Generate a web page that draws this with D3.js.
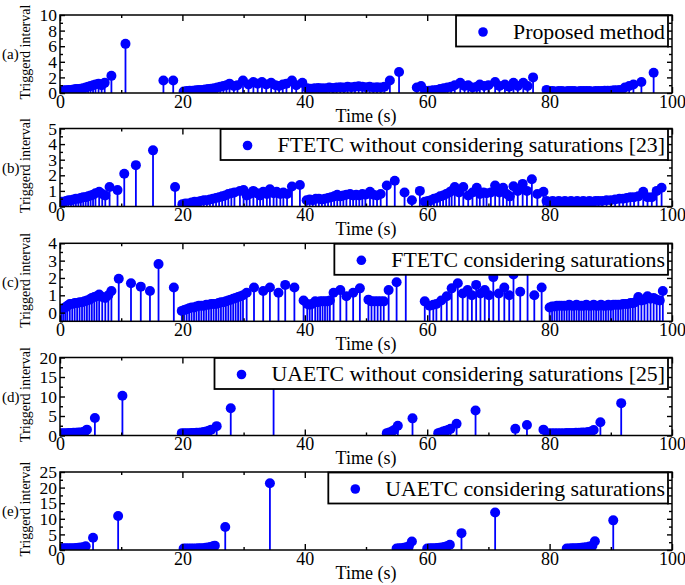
<!DOCTYPE html>
<html>
<head>
<meta charset="utf-8">
<script src="https://cdn.jsdelivr.net/npm/d3@7"></script>
<style>
	body { margin: 0; background: #fff; }
	svg { display: block; }
	text { font-family: "Liberation Serif", "Times New Roman", serif; }
</style>
</head>
<body>
<div id="chart"></div>
<script>
// ---- data (time in s, triggered interval) ----
const xTicks = [0, 20, 40, 60, 80, 100];
const xMinor = [10, 30, 50, 70, 90];

const tA = [0.2,0.6,1.0,1.4,1.8,2.2,2.6,3.0,3.4,3.8,4.2,4.6,5.0,5.4,5.8,6.3,6.8,7.3,8.4,10.7,16.9,18.5,
	20.2,20.7,21.2,21.7,22.2,22.7,23.2,23.7,24.2,24.7,25.2,25.7,26.2,26.7,27.2,27.7,28.4,29.0,29.9,30.8,31.6,32.3,33.0,33.7,34.5,35.2,35.8,36.4,37.0,37.9,38.6,39.6,
	40.4,41.0,41.6,42.2,42.8,43.4,44.0,44.6,45.2,45.8,46.4,47.0,47.6,48.2,48.8,49.4,50.0,50.6,51.2,51.8,52.4,53.0,53.9,55.4,
	58.3,59.0,59.7,60.3,60.9,61.5,62.1,62.7,63.3,63.9,64.5,65.4,66.1,66.7,67.4,68.1,68.6,69.3,70.0,71.1,71.8,72.7,73.4,74.1,74.8,75.7,76.4,77.3,79.5,
	80.0,80.5,81.0,81.5,82.0,82.5,83.0,83.5,84.0,84.5,85.0,85.5,86.0,86.5,87.0,87.5,88.0,88.5,89.0,89.5,90.0,90.5,91.0,91.5,92.3,93.0,93.7,95.0,97.0];
const vA = [0.3,0.35,0.35,0.4,0.4,0.45,0.5,0.5,0.55,0.6,0.7,0.8,0.9,1.0,1.1,1.2,1.0,1.3,2.2,6.3,1.6,1.6,
	0.2,0.25,0.3,0.3,0.35,0.4,0.4,0.45,0.5,0.55,0.6,0.7,0.8,0.9,1.0,1.2,0.9,1.0,1.6,1.1,1.4,1.2,1.4,1.1,1.3,1.0,0.9,1.1,1.2,1.6,1.0,1.3,
	0.6,0.55,0.6,0.65,0.6,0.6,0.7,0.65,0.7,0.75,0.7,0.8,0.75,0.8,0.85,0.8,0.75,0.8,0.7,0.75,0.7,0.8,1.6,2.7,
	0.7,0.9,0.3,0.3,0.35,0.4,0.5,0.6,0.7,0.8,1.0,1.3,0.9,1.0,0.7,0.8,1.1,0.9,1.0,1.4,0.9,1.1,0.8,1.3,0.9,1.3,0.9,2.0,0.4,
	0.25,0.25,0.2,0.25,0.25,0.2,0.25,0.25,0.25,0.2,0.25,0.25,0.25,0.25,0.2,0.25,0.25,0.25,0.3,0.3,0.3,0.35,0.35,0.4,0.7,0.9,1.1,1.4,2.6];

const tB = [0.2,0.6,1.0,1.4,1.8,2.2,2.6,3.0,3.4,3.8,4.2,4.6,5.0,5.4,5.8,6.4,6.9,7.4,8.1,9.4,10.5,12.4,15.2,18.8,
	20.0,20.5,21.0,21.5,22.0,22.5,23.0,23.5,24.0,24.5,25.0,25.5,26.0,26.5,27.0,27.5,28.0,28.5,
	29.4,30.0,30.5,31.0,31.6,32.2,32.7,33.2,33.8,34.3,34.9,35.4,36.0,36.5,37.1,37.9,39.2,
	40.3,40.8,41.3,41.8,42.3,42.8,43.3,43.8,44.3,44.8,45.3,45.8,46.3,46.8,47.4,47.9,48.4,48.9,49.4,49.9,50.65,51.2,51.8,52.4,
	53.4,54.7,56.3,57.5,58.8,
	59.6,60.1,60.6,61.1,61.6,62.1,62.6,63.1,63.6,64.0,64.5,65.2,65.9,66.7,67.4,68.1,68.6,69.2,69.7,70.4,71.1,71.8,72.4,73.0,73.5,74.1,74.8,75.6,76.3,77.1,78.0,79.0,
	79.5,80.0,80.5,81.0,81.5,82.0,82.5,83.0,83.5,84.0,84.5,85.0,85.5,86.0,86.5,87.0,87.5,88.0,
	88.6,89.3,90.0,90.7,91.4,92.0,92.6,93.2,93.8,94.5,95.3,96.0,96.7,97.5,98.3];
const vB = [0.3,0.3,0.35,0.4,0.4,0.45,0.5,0.5,0.55,0.6,0.6,0.65,0.7,0.75,0.85,0.95,0.8,0.7,1.25,1.05,2.1,2.65,3.6,1.25,
	0.15,0.2,0.2,0.25,0.3,0.3,0.35,0.4,0.4,0.45,0.5,0.55,0.6,0.65,0.7,0.8,0.85,0.9,
	1.0,1.06,0.7,0.8,1.0,0.85,0.7,0.95,0.8,1.1,0.85,0.95,0.8,0.9,0.8,1.28,1.38,
	0.4,0.45,0.4,0.5,0.5,0.45,0.5,0.55,0.6,0.65,0.75,0.65,0.7,0.75,0.8,0.7,0.75,0.7,0.8,0.75,0.95,0.75,0.7,0.8,
	1.35,1.65,0.9,0.4,1.0,
	0.3,0.35,0.4,0.5,0.55,0.65,0.7,0.8,0.9,1.0,1.25,0.9,1.25,0.7,0.9,1.2,0.8,0.9,0.85,0.9,1.35,0.9,1.2,0.8,0.65,1.3,1.0,1.45,1.0,1.75,0.8,0.95,
	0.35,0.3,0.35,0.3,0.35,0.3,0.35,0.3,0.35,0.3,0.35,0.3,0.35,0.3,0.35,0.3,0.35,0.35,
	0.35,0.4,0.4,0.45,0.5,0.5,0.55,0.6,0.6,0.65,0.95,0.6,0.6,1.0,1.2];

const tC = [0.3,0.6,0.9,1.2,1.6,2.0,2.4,2.8,3.2,3.6,4.0,4.4,4.8,5.2,5.6,6.0,6.4,6.9,7.4,7.9,8.4,9.6,11.6,13.2,14.7,16.1,18.6,
	19.9,20.3,20.7,21.1,21.5,21.9,22.3,22.7,23.1,23.5,23.9,24.3,24.7,25.1,25.5,25.9,26.3,26.7,27.1,27.5,27.9,28.3,28.7,29.1,29.5,29.9,30.5,
	31.7,33.2,34.3,35.7,36.8,38.3,39.8,
	40.4,40.8,41.2,41.7,42.1,42.5,42.9,43.3,43.7,44.1,44.7,45.8,46.8,47.9,49.0,50.4,50.9,51.4,51.9,52.4,52.9,53.7,55.0,56.5,
	59.6,60.4,61.0,61.5,62.3,63.2,64.0,65.0,65.8,66.6,67.3,68.0,68.7,69.4,70.1,70.8,71.7,72.6,73.4,74.1,75.2,76.4,77.5,78.7,
	80.0,80.4,80.8,81.2,81.6,82.0,82.4,82.8,83.2,83.6,84.0,84.4,84.8,85.2,85.6,86.0,86.4,86.8,87.2,87.6,88.0,88.4,88.8,89.2,89.6,90.0,90.4,90.8,91.2,91.6,92.0,92.4,92.8,93.2,93.6,94.0,94.5,95.0,95.5,96.0,96.5,97.0,97.5,98.0,98.5];
const vC = [0.2,0.25,0.3,0.4,0.5,0.5,0.55,0.55,0.6,0.6,0.65,0.7,0.75,0.85,0.9,0.95,1.05,0.9,0.85,1.0,1.25,1.95,1.7,1.5,1.25,2.8,1.45,
	0.1,0.15,0.2,0.25,0.3,0.3,0.35,0.4,0.4,0.4,0.45,0.45,0.5,0.5,0.5,0.55,0.6,0.6,0.65,0.7,0.75,0.8,0.85,0.9,0.95,1.0,1.15,
	1.45,1.25,1.45,1.15,1.6,1.45,0.7,
	0.5,0.45,0.5,0.65,0.6,0.65,0.65,0.65,0.65,0.7,1.15,1.3,0.95,1.15,1.4,0.75,0.65,0.65,0.65,0.65,0.65,1.3,1.75,4.6,
	0.65,0.4,0.45,0.5,0.7,0.95,1.4,1.7,1.1,1.3,1.0,1.6,1.1,1.3,1.0,2.05,1.1,1.45,1.0,2.2,1.2,4.6,1.0,1.45,
	0.3,0.35,0.35,0.4,0.4,0.4,0.4,0.4,0.45,0.4,0.4,0.45,0.4,0.4,0.4,0.45,0.4,0.4,0.45,0.4,0.4,0.45,0.4,0.4,0.45,0.4,0.45,0.45,0.45,0.45,0.5,0.5,0.5,0.55,0.55,0.6,0.9,0.7,0.75,0.95,0.8,0.85,0.75,0.7,1.25];

const tD = [0.2,0.6,1.0,1.4,1.8,2.2,2.6,3.0,3.4,3.8,4.1,4.4,5.7,10.2,
	19.9,20.3,20.7,21.1,21.5,21.9,22.3,22.7,23.1,23.5,23.9,24.3,24.7,25.6,27.9,34.9,
	53.4,53.8,54.2,54.6,55.2,57.6,
	61.8,62.2,62.6,63.0,63.4,63.8,64.8,67.9,74.4,76.3,79.0,
	79.8,80.3,80.8,81.3,81.8,82.3,82.8,83.3,83.8,84.3,84.8,85.3,85.8,86.3,86.8,87.2,88.3,91.7];
const vD = [0.6,0.6,0.6,0.65,0.65,0.7,0.7,0.75,0.8,0.9,1.1,1.5,4.5,10.2,
	0.6,0.6,0.6,0.6,0.65,0.65,0.7,0.7,0.8,0.9,1.0,1.2,1.5,2.4,7.0,20.5,
	0.6,0.8,1.0,1.4,2.5,4.4,
	0.6,0.8,1.0,1.2,1.4,1.7,3.0,6.4,1.7,2.7,1.5,
	0.6,0.6,0.6,0.6,0.6,0.6,0.65,0.65,0.65,0.7,0.7,0.75,0.8,0.9,1.0,1.4,3.4,8.3];

const tE = [0.2,0.6,1.0,1.4,1.8,2.2,2.6,3.0,3.4,3.8,4.2,5.4,9.5,
	20.2,20.6,21.0,21.4,21.8,22.2,22.6,23.0,23.4,23.8,24.2,24.6,25.0,25.3,27.0,34.3,
	55.0,55.4,55.8,56.2,56.6,57.0,57.5,
	60.0,60.4,60.8,61.2,61.6,62.0,62.4,62.8,63.2,63.7,65.6,71.1,
	82.8,83.2,83.6,84.0,84.4,84.8,85.2,85.6,86.0,86.5,87.0,87.4,90.4];
const vE = [0.55,0.55,0.55,0.6,0.6,0.6,0.65,0.7,0.8,0.9,1.2,3.9,10.9,
	0.45,0.45,0.45,0.5,0.5,0.5,0.55,0.55,0.6,0.7,0.8,1.0,1.2,1.4,7.4,21.4,
	0.5,0.55,0.6,0.7,0.9,1.2,2.7,
	0.5,0.55,0.55,0.6,0.65,0.7,0.8,1.0,1.2,1.7,5.4,12.0,
	0.5,0.5,0.55,0.6,0.6,0.65,0.7,0.8,0.9,1.1,1.4,2.8,9.5];

const tags = ["(a)", "(b)", "(c)", "(d)", "(e)"];
const names = [
	"Proposed method",
	"FTETC without considering saturations [23]",
	"FTETC considering saturations",
	"UAETC without considering saturations [25]",
	"UAETC considering saturations",
];
const yTicks = [[0, 2, 4, 6, 8, 10], [0, 1, 2, 3, 4, 5], [0, 1, 2, 3, 4], [0, 5, 10, 15, 20], [0, 5, 10, 15, 20, 25]];
const yMinor = [[1, 3, 5, 7, 9], [0.5, 1.5, 2.5, 3.5, 4.5], [-0.5, 0.5, 1.5, 2.5, 3.5], [2.5, 7.5, 12.5, 17.5], [2.5, 7.5, 12.5, 17.5, 22.5]];
const yDomains = [[0, 10], [0, 5], [-0.5, 4], [0, 20], [0, 25]];
const times = [tA, tB, tC, tD, tE];
const values = [vA, vB, vC, vD, vE];

// ---- layout ----
const W = 685, H = 585;
const left = 60, pw = 612, ph = 78;
const tops = [15, 128.5, 243.3, 357.5, 472];
const blue = "#0000ff";
const serif = '"Liberation Serif", "Times New Roman", serif';

const svg = d3.select("#chart").append("svg").attr("width", W).attr("height", H);

const x = d3.scaleLinear().domain([0, 100]).range([0, pw]);

function styleAxis(g, size) {
	g.attr("font-family", serif).attr("font-size", size);
	g.select(".domain").remove();
	g.selectAll("line").attr("stroke", "#000").attr("stroke-width", 1.4);
	g.selectAll("text").attr("fill", "#000");
}

tags.forEach((tag, i) => {
	const g = svg.append("g").attr("transform", `translate(${left},${tops[i]})`);
	const y = d3.scaleLinear().domain(yDomains[i]).range([ph, 0]);
	const data = times[i].map((t, k) => ({ t: t, v: values[i][k] }));

	g.append("clipPath").attr("id", "clip" + i)
		.append("rect").attr("width", pw).attr("height", ph);
	const marks = g.append("g").attr("clip-path", `url(#clip${i})`);

	// stems
	marks.selectAll("line").data(data).join("line")
		.attr("x1", (d) => x(d.t)).attr("x2", (d) => x(d.t))
		.attr("y1", ph).attr("y2", (d) => y(d.v))
		.attr("stroke", blue).attr("stroke-width", 1.8);
	// markers
	marks.selectAll("circle").data(data).join("circle")
		.attr("cx", (d) => x(d.t)).attr("cy", (d) => y(d.v))
		.attr("r", 5).attr("fill", blue);

	// x axes (ticks inward)
	g.append("g").attr("transform", `translate(0,${ph})`)
		.call(d3.axisBottom(x).tickValues(xTicks).tickSize(-6).tickPadding(2).tickFormat(d3.format("d")))
		.call((a) => styleAxis(a, 18));
	g.append("g").attr("transform", `translate(0,${ph})`)
		.call(d3.axisBottom(x).tickValues(xMinor).tickSize(-3).tickFormat(""))
		.call((a) => styleAxis(a, 18));
	g.append("g").call(d3.axisTop(x).tickValues(xTicks).tickSize(-6).tickFormat(""))
		.call((a) => styleAxis(a, 18));
	g.append("g").call(d3.axisTop(x).tickValues(xMinor).tickSize(-3).tickFormat(""))
		.call((a) => styleAxis(a, 18));

	// y axes
	g.append("g").call(d3.axisLeft(y).tickValues(yTicks[i]).tickSize(-5).tickPadding(3).tickFormat(d3.format("d")))
		.call((a) => styleAxis(a, 17.5));
	g.append("g").call(d3.axisLeft(y).tickValues(yMinor[i]).tickSize(-3).tickFormat(""))
		.call((a) => styleAxis(a, 18));
	g.append("g").attr("transform", `translate(${pw},0)`)
		.call(d3.axisRight(y).tickValues(yTicks[i]).tickSize(-5).tickFormat(""))
		.call((a) => styleAxis(a, 18));
	g.append("g").attr("transform", `translate(${pw},0)`)
		.call(d3.axisRight(y).tickValues(yMinor[i]).tickSize(-3).tickFormat(""))
		.call((a) => styleAxis(a, 18));

	// frame
	g.append("rect").attr("width", pw).attr("height", ph)
		.attr("fill", "none").attr("stroke", "#000").attr("stroke-width", 1.5);

	// axis titles
	g.append("text")
		.attr("x", pw / 2).attr("y", ph + 28.5)
		.attr("text-anchor", "middle")
		.style("font-size", "18px")
		.text("Time (s)");
	g.append("text")
		.attr("transform", `translate(${30 - left},${ph / 2 - 2}) rotate(-90)`)
		.attr("text-anchor", "middle")
		.style("font-size", "14px")
		.text("Triggerd interval");
	g.append("text")
		.attr("x", 2 - left).attr("y", ph / 2 + 5)
		.style("font-size", "15px")
		.text(tag);

	// legend
	const lg = g.append("g");
	const box = lg.append("rect");
	const txt = lg.append("text")
		.attr("x", pw - 7).attr("y", 23.5)
		.attr("text-anchor", "end")
		.style("font-size", "21.8px")
		.text(names[i]);
	const tw = txt.node().getComputedTextLength();
	const bx = pw - 7 - tw - 57;
	box.attr("x", bx).attr("y", 0.5)
		.attr("width", pw - 4 - bx).attr("height", 31)
		.attr("fill", "#fff").attr("stroke", "#000").attr("stroke-width", 1.8);
	lg.append("circle").attr("cx", bx + 27).attr("cy", 17).attr("r", 4.8).attr("fill", blue);
});
</script>
</body>
</html>
